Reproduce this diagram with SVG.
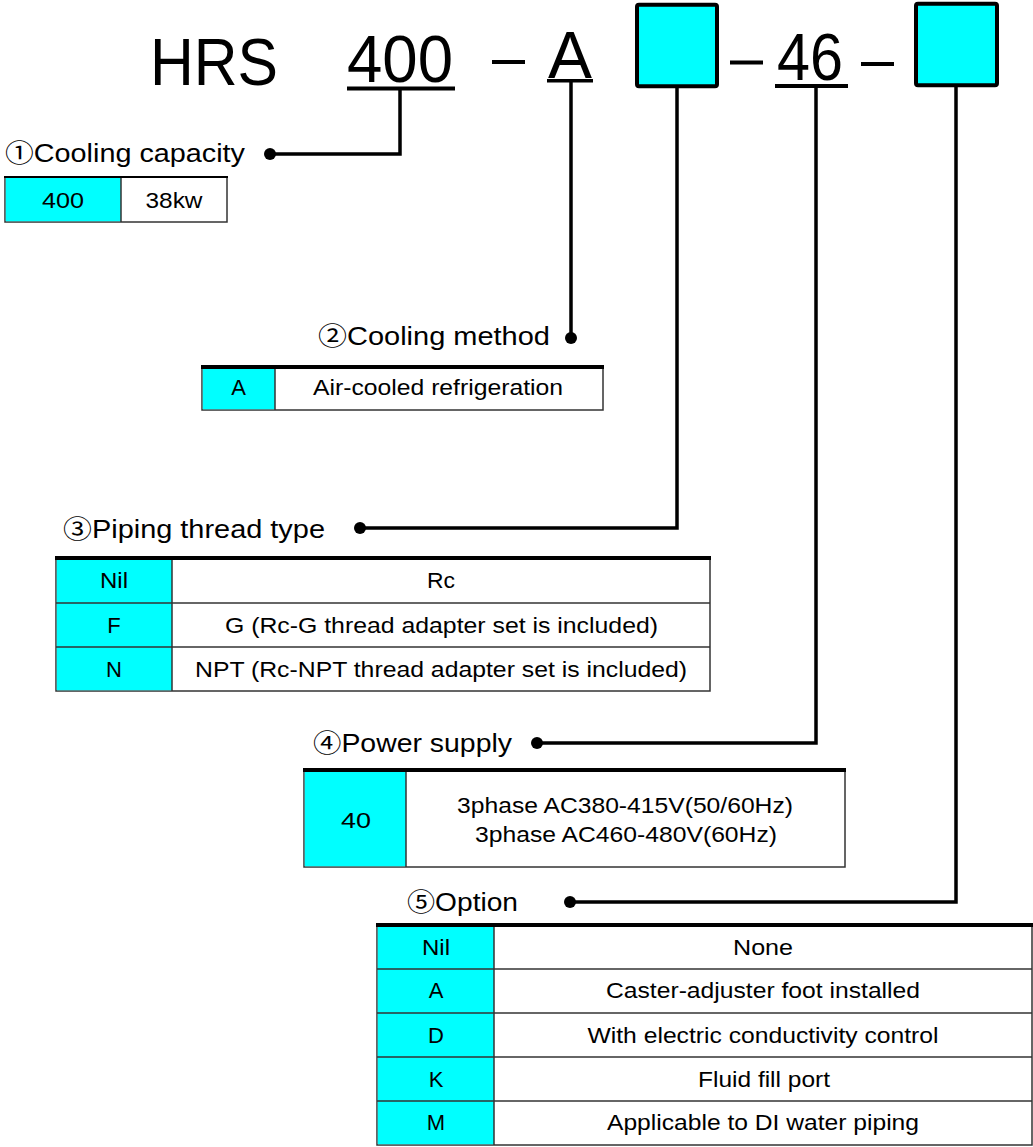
<svg xmlns="http://www.w3.org/2000/svg" width="1033" height="1147" viewBox="0 0 1033 1147">
<style>
  text { font-family: "Liberation Sans", Arial, sans-serif; fill: #000; }
  .big { font-size: 66px; }
  .lbl { font-size: 25px; }
  .num { font-family: "Noto Sans CJK JP", "DejaVu Sans", sans-serif; }
  .cell { font-size: 22px; text-anchor: middle; }
  .cyan { fill: #00FFFF; }
  .tbl { fill: #fff; stroke: #333; stroke-width: 1.5; }
  .sep { stroke: #333; stroke-width: 1.5; fill: none; }
  .top { stroke: #000; stroke-width: 4; fill: none; }
  .conn { stroke: #000; stroke-width: 3.5; fill: none; stroke-linejoin: miter; }
  .dot { fill: #000; }
  .box { fill: #00FFFF; stroke: #000; stroke-width: 4; }
</style>
<rect width="1033" height="1147" fill="#fff"/>

<g id="header">
  <text class="big" x="150" y="85" textLength="128" lengthAdjust="spacingAndGlyphs">HRS</text>
  <text class="big" x="347" y="82" font-size="68" textLength="106" lengthAdjust="spacingAndGlyphs">400</text>
  <rect x="347" y="86.5" width="108" height="4" fill="#000"/>
  <rect x="492" y="60" width="33" height="4" fill="#000"/>
  <text class="big" x="548" y="78" font-size="68" textLength="44" lengthAdjust="spacingAndGlyphs">A</text>
  <rect x="547" y="79" width="46" height="3.5" fill="#000"/>
  <rect class="box" x="637" y="4.7" width="80" height="81.6" rx="2"/>
  <rect x="730" y="60.5" width="33" height="4" fill="#000"/>
  <text class="big" x="777" y="80" font-size="67" textLength="66" lengthAdjust="spacingAndGlyphs">46</text>
  <rect x="775" y="84" width="73" height="4" fill="#000"/>
  <rect x="861" y="62" width="33" height="4" fill="#000"/>
  <rect class="box" x="916" y="3.7" width="81" height="81.6" rx="2"/>
</g>

<g id="connectors">
  <polyline class="conn" points="400,89 400,154 270,154"/>
  <circle class="dot" cx="270" cy="154" r="6"/>
  <polyline class="conn" points="571,82 571,338"/>
  <circle class="dot" cx="571" cy="338" r="6"/>
  <polyline class="conn" points="677,88 677,528 360,528"/>
  <circle class="dot" cx="360" cy="528" r="6"/>
  <polyline class="conn" points="816,88 816,743 537,743"/>
  <circle class="dot" cx="537" cy="743" r="6"/>
  <polyline class="conn" points="956,87 956,902 570,902"/>
  <circle class="dot" cx="570" cy="902" r="6"/>
</g>

<g id="cooling-capacity">
  <text class="lbl" x="5" y="162" font-size="24" textLength="240" lengthAdjust="spacingAndGlyphs"><tspan class="num">①</tspan>Cooling capacity</text>
  <rect class="tbl" x="5" y="177" width="222" height="45"/>
  <rect class="cyan" x="5.75" y="177.75" width="115.25" height="43.5"/>
  <line class="sep" x1="121" y1="177" x2="121" y2="222"/>
  <line stroke="#000" stroke-width="2" x1="4" y1="177" x2="228" y2="177"/>
  <text class="cell" x="63" y="208" font-size="21" textLength="42" lengthAdjust="spacingAndGlyphs">400</text>
  <text class="cell" x="174" y="208" font-size="21" textLength="57" lengthAdjust="spacingAndGlyphs">38kw</text>
</g>

<g id="cooling-method">
  <text class="lbl" x="318" y="345" textLength="232" lengthAdjust="spacingAndGlyphs"><tspan class="num">②</tspan>Cooling method</text>
  <rect class="tbl" x="202" y="367" width="401" height="43"/>
  <rect class="cyan" x="202.75" y="367" width="72.25" height="42.25"/>
  <line class="sep" x1="275" y1="367" x2="275" y2="410"/>
  <line class="top" x1="201" y1="367" x2="604" y2="367"/>
  <text class="cell" x="238.5" y="395">A</text>
  <text class="cell" x="438" y="395" textLength="250" lengthAdjust="spacingAndGlyphs">Air-cooled refrigeration</text>
</g>

<g id="piping-thread">
  <text class="lbl" x="63" y="538" font-size="26" textLength="262" lengthAdjust="spacingAndGlyphs"><tspan class="num">③</tspan>Piping thread type</text>
  <rect class="tbl" x="56" y="558" width="654" height="133"/>
  <rect class="cyan" x="56.75" y="558" width="115.25" height="132.25"/>
  <line class="sep" x1="172" y1="558" x2="172" y2="691"/>
  <line class="sep" x1="56" y1="603" x2="710" y2="603"/>
  <line class="sep" x1="56" y1="647" x2="710" y2="647"/>
  <line class="top" x1="55" y1="558" x2="711" y2="558"/>
  <text class="cell" x="114" y="588" textLength="28" lengthAdjust="spacingAndGlyphs">Nil</text>
  <text class="cell" x="441" y="588" textLength="28" lengthAdjust="spacingAndGlyphs">Rc</text>
  <text class="cell" x="114" y="633">F</text>
  <text class="cell" x="441.5" y="633" textLength="433" lengthAdjust="spacingAndGlyphs">G (Rc-G thread adapter set is included)</text>
  <text class="cell" x="114" y="677">N</text>
  <text class="cell" x="441" y="677" textLength="492" lengthAdjust="spacingAndGlyphs">NPT (Rc-NPT thread adapter set is included)</text>
</g>

<g id="power-supply">
  <text class="lbl" x="313" y="752" font-size="24" textLength="199" lengthAdjust="spacingAndGlyphs"><tspan class="num">④</tspan>Power supply</text>
  <rect class="tbl" x="304" y="770" width="541" height="97"/>
  <rect class="cyan" x="304.75" y="770" width="101.25" height="96.25"/>
  <line class="sep" x1="406" y1="770" x2="406" y2="867"/>
  <line class="top" x1="303" y1="770" x2="846" y2="770"/>
  <text class="cell" x="356" y="828" textLength="30" lengthAdjust="spacingAndGlyphs">40</text>
  <text class="cell" x="625" y="813" font-size="21" textLength="336" lengthAdjust="spacingAndGlyphs">3phase AC380-415V(50/60Hz)</text>
  <text class="cell" x="626" y="842" font-size="21" textLength="302" lengthAdjust="spacingAndGlyphs">3phase AC460-480V(60Hz)</text>
</g>

<g id="option">
  <text class="lbl" x="407" y="911" textLength="111" lengthAdjust="spacingAndGlyphs"><tspan class="num">⑤</tspan>Option</text>
  <rect class="tbl" x="377" y="925" width="655" height="220"/>
  <rect class="cyan" x="377.75" y="925" width="116.25" height="219.25"/>
  <line class="sep" x1="494" y1="925" x2="494" y2="1145"/>
  <line class="sep" x1="377" y1="969" x2="1032" y2="969"/>
  <line class="sep" x1="377" y1="1013" x2="1032" y2="1013"/>
  <line class="sep" x1="377" y1="1057" x2="1032" y2="1057"/>
  <line class="sep" x1="377" y1="1101" x2="1032" y2="1101"/>
  <line class="top" x1="376" y1="925" x2="1033" y2="925"/>
  <text class="cell" x="436" y="955" textLength="28" lengthAdjust="spacingAndGlyphs">Nil</text>
  <text class="cell" x="763" y="955" textLength="60" lengthAdjust="spacingAndGlyphs">None</text>
  <text class="cell" x="436" y="998">A</text>
  <text class="cell" x="763" y="998" textLength="314" lengthAdjust="spacingAndGlyphs">Caster-adjuster foot installed</text>
  <text class="cell" x="436" y="1043">D</text>
  <text class="cell" x="763" y="1043" textLength="351" lengthAdjust="spacingAndGlyphs">With electric conductivity control</text>
  <text class="cell" x="436" y="1087">K</text>
  <text class="cell" x="764" y="1087" textLength="132" lengthAdjust="spacingAndGlyphs">Fluid fill port</text>
  <text class="cell" x="436" y="1130">M</text>
  <text class="cell" x="763" y="1130" textLength="312" lengthAdjust="spacingAndGlyphs">Applicable to DI water piping</text>
</g>
</svg>
